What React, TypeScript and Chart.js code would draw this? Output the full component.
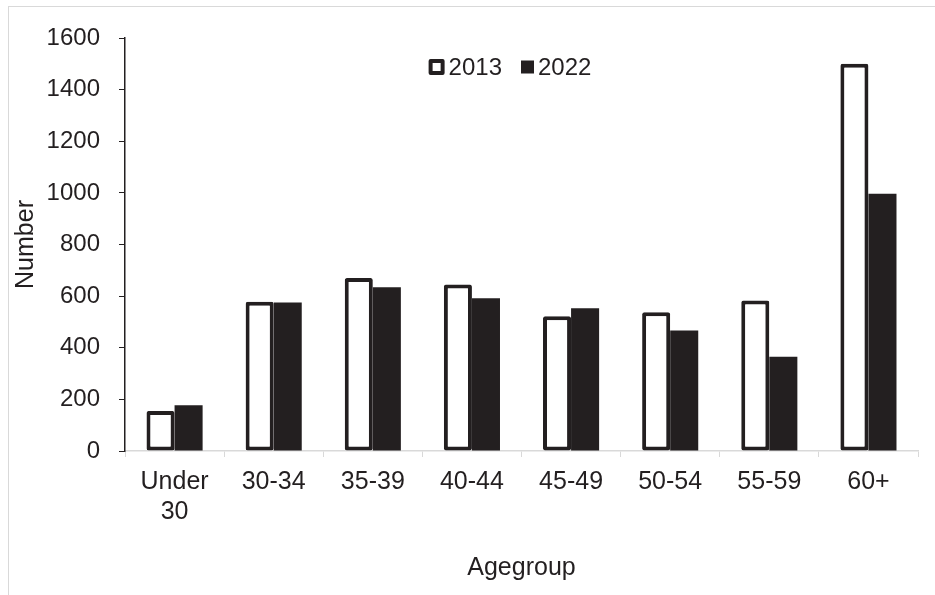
import React, { useEffect, useRef } from "react";
import { Chart, registerables } from "chart.js";

Chart.register(...registerables);

const categories: (string | string[])[] = [
  ["Under", "30"],
  "30-34",
  "35-39",
  "40-44",
  "45-49",
  "50-54",
  "55-59",
  "60+",
];
const values2013 = [155, 578, 670, 645, 522, 538, 583, 1500];
const values2022 = [177, 575, 634, 592, 553, 467, 365, 997];
const yTicks = [0, 200, 400, 600, 800, 1000, 1200, 1400, 1600];

const INK = "#231f20";
const GRAY = "#d9d9d9";
const FONT = "'Liberation Sans', Arial, sans-serif";

// Legend drawn inside the plot area, centred near the top.
const insideLegend = {
  id: "insideLegend",
  afterDatasetsDraw(chart: any, _args: any, opts: any) {
    const ctx = chart.ctx as CanvasRenderingContext2D;
    ctx.save();
    ctx.font = `${opts.fontSize}px ${FONT}`;
    ctx.textBaseline = "middle";
    ctx.textAlign = "left";
    const items = chart.data.datasets.map((ds: any) => ({
      label: ds.label as string,
      fill: ds.backgroundColor as string,
      outlined: (ds.borderWidth || 0) > 0,
    }));
    const boxOuter = 16;
    const boxSolid = 13;
    const gapText = 4;
    const gapItem = 19;
    let total = 0;
    items.forEach((it: any, i: number) => {
      total += (it.outlined ? boxOuter : boxSolid) + gapText + ctx.measureText(it.label).width;
      if (i < items.length - 1) total += gapItem;
    });
    let x = opts.centerX - total / 2;
    const cy = opts.centerY;
    items.forEach((it: any) => {
      if (it.outlined) {
        ctx.fillStyle = INK;
        ctx.beginPath();
        ctx.roundRect(x, cy - boxOuter / 2, boxOuter, boxOuter, 2);
        ctx.fill();
        ctx.fillStyle = "#ffffff";
        ctx.fillRect(x + 4, cy - boxOuter / 2 + 4, boxOuter - 8, boxOuter - 8);
        x += boxOuter;
      } else {
        ctx.fillStyle = it.fill;
        ctx.fillRect(x, cy - boxSolid / 2, boxSolid, boxSolid);
        x += boxSolid;
      }
      x += gapText;
      ctx.fillStyle = INK;
      ctx.fillText(it.label, x, cy + 1);
      x += ctx.measureText(it.label).width + gapItem;
    });
    ctx.restore();
  },
};

export default function App() {
  const canvasRef = useRef<HTMLCanvasElement | null>(null);

  useEffect(() => {
    const canvas = canvasRef.current;
    if (!canvas) return;
    const chart = new Chart(canvas, {
      type: "bar",
      data: {
        labels: categories,
        datasets: [
          {
            label: "2013",
            data: values2013,
            backgroundColor: "#ffffff",
            borderColor: INK,
            borderWidth: 4,
            borderSkipped: false,
            borderRadius: 2,
            categoryPercentage: 0.566,
            barPercentage: 1,
          },
          {
            label: "2022",
            data: values2022,
            backgroundColor: INK,
            borderWidth: 0,
            categoryPercentage: 0.566,
            barPercentage: 1,
          },
        ],
      },
      options: {
        responsive: false,
        animation: false,
        devicePixelRatio: 1,
        layout: { padding: { left: 8, right: 17, top: 38, bottom: 0 } },
        plugins: {
          legend: { display: false },
          tooltip: { enabled: false },
          insideLegend: { centerX: 510, centerY: 67, fontSize: 24 },
        } as any,
        scales: {
          x: {
            offset: true,
            grid: {
              display: true,
              drawOnChartArea: false,
              drawTicks: true,
              tickLength: 6,
              color: GRAY,
              offset: true,
            },
            border: { display: true, color: GRAY, width: 1.5 },
            ticks: {
              color: INK,
              padding: 10,
              maxRotation: 0,
              autoSkip: false,
              font: { family: FONT, size: 25, lineHeight: 1.2 },
            },
            title: {
              display: true,
              text: "Agegroup",
              color: INK,
              font: { family: FONT, size: 25, lineHeight: 1.2 },
              padding: { top: 0, bottom: 12 },
            },
            afterFit: (scale: any) => {
              scale.height = 144;
            },
          },
          y: {
            min: 0,
            max: 1600,
            afterBuildTicks: (scale: any) => {
              scale.ticks = yTicks.map((v) => ({ value: v }));
            },
            grid: {
              display: true,
              drawOnChartArea: false,
              drawTicks: true,
              tickLength: 6,
              color: INK,
            },
            border: { display: true, color: INK, width: 1.5 },
            ticks: {
              color: INK,
              padding: 19,
              font: { family: FONT, size: 24 },
              callback: (value: any) => String(value),
            },
            title: {
              display: true,
              text: "Number",
              color: INK,
              font: { family: FONT, size: 25, lineHeight: 1.2 },
              padding: { top: 3, bottom: 0 },
            },
            afterFit: (scale: any) => {
              scale.width = 117;
            },
          },
        },
      },
      plugins: [insideLegend],
    });
    return () => chart.destroy();
  }, []);

  return (
    <div style={{ position: "fixed", left: 0, top: 0, width: 935, height: 595, background: "#ffffff", overflow: "hidden" }}>
      <div
        style={{
          position: "absolute",
          left: 8,
          top: 6,
          width: 1000,
          height: 1000,
          border: `1.5px solid ${GRAY}`,
        }}
      />
      <canvas
        ref={canvasRef}
        width={935}
        height={595}
        style={{ position: "absolute", left: 0, top: 0, width: 935, height: 595 }}
      />
    </div>
  );
}
